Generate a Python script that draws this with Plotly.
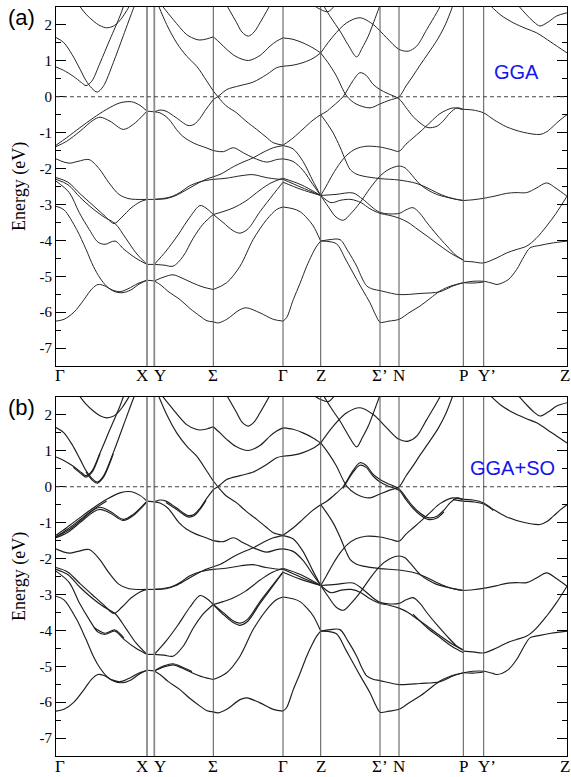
import plotly.graph_objects as go

# ---------------- high-symmetry path ----------------
kpt_labels = ["Γ", "X", "Y", "Σ", "Γ", "Z", "Σ’", "N", "P", "Y’", "Z"]
kpt_pos = [0, 91, 98.3, 157.3, 227, 264.7, 324, 343, 407.3, 427.7, 511]
ytick_vals = [-7, -6, -5, -4, -3, -2, -1, 0, 1, 2]
ytick_text = ["-7", "-6", "-5", "-4", "-3", "-2", "-1", "0", "1", "2"]

# ---------------- GGA bands: (k, E in eV) ----------------
# Gamma -> X
gx_c1 = [(24, 2.51), (30, 2.3), (37.3, 2.11), (44, 1.98), (50.7, 1.92), (56, 1.95), (60.7, 2.03), (66, 2.2), (70.7, 2.4), (74, 2.55)]
gx_c3 = [(0, 1.65), (7.7, 1.51), (16, 1.18), (24, 0.77), (30, 0.45), (35.7, 0.24), (41.3, 0.13), (47.3, 0.29), (57.3, 0.95), (67.3, 1.7), (77.3, 2.45), (79, 2.56)]
gx_c2 = [(0, 0.83), (7.3, 0.74), (17.3, 0.57), (25.7, 0.39), (30, 0.31), (35.7, 0.43), (44, 0.94), (54, 1.6), (64, 2.25), (68, 2.56)]
gx_p = [(0, -1.35), (10.7, -1.14), (24, -0.86), (37.3, -0.59), (50.7, -0.35), (64, -0.17), (75.7, -0.14), (84, -0.24), (91, -0.40)]
gx_q = [(0, -1.39), (10.7, -1.24), (24, -0.96), (37.3, -0.65), (44, -0.57), (54, -0.68), (67.3, -0.91), (77.3, -0.77), (91, -0.40)]
gx_r = [(0, -1.73), (8, -1.82), (14, -1.85), (22, -1.8), (33, -1.75), (43, -2.0), (53, -2.4), (63, -2.72), (73, -2.84), (91, -2.86)]
gx_v = [(0, -2.25), (12, -2.38), (24, -2.7), (36, -3.0), (48, -3.3), (58, -3.53), (66, -3.35), (75, -3.1), (84, -2.93), (91, -2.86)]
gx_s = [(0, -2.3), (12, -2.45), (24, -2.8), (36, -3.1), (48, -3.35), (59, -3.53), (70, -3.95), (80, -4.35), (91, -4.67)]
gx_w = [(0, -2.35), (13.3, -2.67), (23.3, -3.23), (33.3, -3.7), (42, -4.05), (49, -4.11), (59, -4.02), (68, -4.25), (80, -4.5), (91, -4.67)]
gx_t = [(0, -3.05), (8, -3.15), (20.7, -3.7), (30, -4.25), (37.3, -4.72), (44, -5.05), (50.7, -5.28), (58, -5.42), (66, -5.46), (75, -5.38), (83, -5.22), (91, -5.11)]
gx_u = [(0, -6.25), (8, -6.2), (18, -6.0), (28, -5.65), (36, -5.35), (42, -5.23), (48, -5.26), (56, -5.38), (64, -5.43), (72, -5.35), (82, -5.2), (91, -5.11)]

# X -> Y
xy_1 = [(91, -0.40), (98.3, -0.42)]
xy_2 = [(91, -2.86), (98.3, -2.86)]
xy_3 = [(91, -4.67), (98.3, -4.67)]
xy_4 = [(91, -5.11), (98.3, -5.13)]

# Y -> Sigma
ys_1 = [(98.3, -5.13), (105, -5.25), (112, -5.42), (124, -5.65), (134, -5.9), (144, -6.11), (151, -6.24), (157.3, -6.27)]
ys_2 = [(98.3, -5.13), (108, -5.02), (117, -4.96), (126, -5.05), (136, -5.18), (147, -5.3), (157.3, -5.37)]
ys_3 = [(98.3, -4.67), (110, -4.3), (122, -3.85), (134, -3.35), (144, -3.03), (150, -3.1), (157.3, -3.28)]
ys_4 = [(98.3, -4.67), (108, -4.69), (117, -4.72), (127, -4.45), (137, -3.95), (147, -3.55), (157.3, -3.28)]
ys_5 = [(98.3, -2.86), (110, -2.84), (120, -2.75), (130, -2.6), (140, -2.44), (150, -2.3), (157.3, -2.23)]
ys_6 = [(98.3, -2.86), (110, -2.82), (116.7, -2.77), (125, -2.65), (133, -2.49), (145, -2.36), (157.3, -2.3)]
ys_7 = [(98.3, -0.42), (104, -0.45), (112, -0.6), (123, -1.0), (130, -1.17), (140, -1.32), (150, -1.42), (157.3, -1.5)]
ys_8 = [(98.3, -0.42), (104, -0.37), (110, -0.4), (120, -0.58), (132, -0.8), (138, -0.77), (144, -0.6), (150, -0.35), (157.3, -0.08)]
ys_9 = [(102.3, 2.55), (110.7, 2.01), (120.7, 1.5), (130.7, 1.13), (140.7, 0.85), (150.7, 0.44), (157.3, 0.16)]
ys_10 = [(105.7, 2.55), (117.3, 2.15), (130.7, 1.73), (140, 1.6), (144, 1.58), (150.7, 1.61), (157.3, 1.67)]

# Sigma -> Gamma
sg_1 = [(157.3, 1.67), (164, 1.5), (170.7, 1.32), (180, 1.12), (192.3, 1.01), (204, 1.15), (214, 1.41), (220.7, 1.55), (227, 1.64)]
sg_2 = [(170.7, 2.55), (180.7, 2.06), (186, 1.8), (192.3, 1.69), (198, 1.8), (204, 2.06), (214, 2.55)]
sg_3 = [(157.3, -0.08), (164, 0.05), (170.7, 0.2), (184, 0.31), (197.3, 0.41), (210.7, 0.62), (220.7, 0.81), (227, 0.85)]
sg_4 = [(157.3, 0.16), (164, -0.07), (170, -0.25), (180.7, -0.45), (190, -0.68), (200.7, -0.91), (210, -1.12), (217.3, -1.28), (227, -1.35)]
sg_5 = [(157.3, -1.5), (167.3, -1.53), (177.3, -1.42), (187.3, -1.56), (197.3, -1.70), (210.7, -1.82), (220.7, -1.75), (227, -1.73)]
sg_6 = [(157.3, -2.23), (165, -2.15), (177.3, -1.95), (187, -1.82), (197.3, -1.70), (207, -1.55), (217.3, -1.42), (227, -1.36)]
sg_7 = [(157.3, -2.3), (170, -2.27), (185, -2.2), (197, -2.17), (210, -2.25), (220, -2.29), (227, -2.3)]
sg_8 = [(157.3, -3.28), (167, -3.2), (177, -3.1), (190, -2.9), (204, -2.6), (215, -2.4), (227, -2.27)]
sg_9 = [(157.3, -3.28), (167, -3.5), (177, -3.73), (184, -3.8), (192, -3.68), (204, -3.2), (217.3, -2.72), (227, -2.38)]
sg_10 = [(157.3, -5.37), (170.7, -5.18), (184, -4.72), (197.3, -3.97), (210.7, -3.42), (220.7, -3.14), (227, -3.07)]
sg_11 = [(157.3, -6.27), (162.3, -6.3), (170.7, -6.2), (184, -5.93), (190.7, -5.88), (204, -6.02), (217.3, -6.2), (227, -6.25)]

# Gamma -> Z
gz_1 = [(227, 1.64), (237, 1.6), (247, 1.5), (257, 1.36), (264.7, 1.22)]
gz_2 = [(227, 0.85), (237, 0.88), (247, 0.95), (257, 1.07), (264.7, 1.22)]
gz_3 = [(227, -1.35), (237, -1.15), (247, -0.9), (257, -0.65), (264.7, -0.5)]
gz_4 = [(227, -1.36), (237, -1.45), (247, -1.8), (257, -2.35), (264.7, -2.75)]
gz_5 = [(227, -1.73), (237, -1.8), (247, -2.05), (257, -2.45), (264.7, -2.75)]
gz_6 = [(227, -2.27), (245, -2.45), (264.7, -2.75)]
gz_7 = [(227, -2.3), (245, -2.52), (264.7, -2.75)]
gz_8 = [(227, -2.38), (245, -2.58), (264.7, -2.75)]
gz_9 = [(227, -3.07), (237, -3.12), (244, -3.2), (251, -3.38), (257.3, -3.6), (264.7, -4.02)]
gz_10 = [(227, -6.25), (230.7, -6.15), (237.3, -5.65), (244, -5.2), (250.7, -4.72), (256, -4.4), (260.7, -4.16), (264.7, -4.02)]
gz_11 = [(257.3, 2.55), (264.7, 2.43), (272, 2.37), (279, 2.55)]

# Z -> Sigma' -> N -> P
zp_b1 = [(264.7, 1.22), (272, 0.95), (280, 0.6), (290.7, 0.02), (300, -0.2), (314, -0.31), (324, -0.2), (333, -0.1), (343, 0.0), (350, 0.3), (357, 0.58), (364, 0.88), (372, 1.2), (382, 1.62), (390, 2.05), (397, 2.55)]
zp_b2 = [(264.7, -0.5), (270, -0.42), (277, -0.26), (287, 0.0), (297, 0.45), (304, 0.67), (310, 0.6), (317, 0.35), (324, 0.2), (331, 0.1), (343, -0.06), (350, -0.3), (357, -0.55), (364, -0.73), (372, -0.86), (381, -0.82), (388, -0.65), (394, -0.45), (401, -0.31), (407.3, -0.35)]
zp_b3 = [(264.7, 1.22), (277.3, 1.69), (290.7, 2.06), (304, 2.2), (317.3, 2.01), (330.7, 1.64), (343, 1.32), (352.3, 1.27), (360.7, 1.41), (370.7, 1.87), (380.7, 2.34), (385, 2.56)]
zp_v = [(267.3, 2.55), (275, 2.2), (284, 1.83), (292, 1.45), (300.7, 1.11), (306, 1.35), (312.3, 1.69), (318, 2.1), (324, 2.55)]
zp_l1 = [(264.7, -0.5), (270, -0.7), (277, -1.0), (284, -1.4), (290, -1.8), (294, -2.02), (300, -2.15), (307, -2.21), (324, -2.28), (343, -2.32), (360, -2.41), (370, -2.52), (380.7, -2.67), (390, -2.78), (400.7, -2.86), (407.3, -2.89)]
zp_l2 = [(264.7, -2.75), (270, -2.5), (277, -2.15), (284, -1.85), (291, -1.62), (300, -1.45), (310, -1.38), (324, -1.4), (335, -1.47), (343, -1.52), (350, -1.32), (357, -1.15), (364, -0.98), (374, -0.72), (384, -0.47), (397, -0.31), (407.3, -0.36)]
zp_m = [(264.7, -2.75), (272, -3.05), (280, -3.35), (287.3, -3.44), (295, -3.25), (304, -2.95), (314, -2.55), (324, -2.21), (333, -2.02), (343, -1.93), (349, -1.98), (354, -2.12), (364, -2.44), (372, -2.6), (380.7, -2.72), (391, -2.8), (400.7, -2.86), (407.3, -2.89)]
zp_f1 = [(264.7, -2.75), (280, -2.72), (297, -2.68), (307, -2.86), (324, -3.22), (343, -3.25), (350, -3.15), (357, -3.09), (364, -3.25), (371, -3.51), (381, -3.85), (391, -4.16), (400, -4.42), (407.3, -4.55)]
zp_f2 = [(264.7, -2.75), (275, -2.95), (285, -2.88), (295, -2.86), (305, -2.95), (314, -3.12), (324, -3.25), (333, -3.3), (343, -3.38), (352, -3.5), (362, -3.7), (372, -3.9), (384, -4.15), (396, -4.38), (407.3, -4.55)]
zp_g1 = [(264.7, -4.02), (274, -3.98), (284, -3.98), (292, -4.3), (300.7, -4.72), (306, -5.05), (310.7, -5.27), (317, -5.36), (324, -5.4), (343, -5.51), (364, -5.48), (384, -5.43), (397, -5.27), (407.3, -5.18)]
zp_g2 = [(264.7, -4.02), (272, -4.03), (280.7, -4.1), (290, -4.55), (300.7, -5.09), (307, -5.4), (314, -5.74), (320, -6.1), (324, -6.28), (333, -6.25), (343, -6.2), (354, -6.0), (364, -5.83), (374, -5.62), (384, -5.41), (395, -5.27), (407.3, -5.18)]

# P -> Y' -> Z
pz_1 = [(407.3, -0.35), (417, -0.37), (427.7, -0.45), (437.3, -0.63), (450.7, -0.84), (467.3, -0.99), (484, -1.05), (491, -0.97), (497.3, -0.82), (504, -0.65), (511, -0.5)]
pz_2 = [(407.3, -2.89), (417, -2.87), (427.3, -2.83), (440, -2.76), (450.7, -2.69), (460, -2.67), (470.7, -2.67), (480, -2.55), (490.7, -2.40), (500, -2.55), (511, -2.77)]
pz_3 = [(407.3, -4.58), (417, -4.6), (427.3, -4.63), (440, -4.5), (450.7, -4.35), (460, -4.26), (470.7, -4.16), (480, -3.95), (490.7, -3.6), (500, -3.25), (511, -2.77)]
pz_4 = [(407.3, -5.18), (417, -5.14), (427.7, -5.14), (437, -5.2), (441, -5.23), (452, -5.1), (460.7, -4.81), (468, -4.45), (474, -4.21), (484, -4.14), (495, -4.08), (511, -4.02)]
pz_5 = [(407.3, -5.18), (417, -5.19), (427.7, -5.16)]
pz_6 = [(434, 2.55), (445, 2.27), (457.3, 2.06), (470, 1.9), (480.7, 1.78), (495, 1.52), (511, 1.22)]
pz_7 = [(462, 2.55), (470, 2.3), (478, 2.08), (484, 1.97), (492, 2.08), (500.7, 2.25), (511, 2.34)]

bands_gga = [gx_c1, gx_c3, gx_c2, gx_p, gx_q, gx_r, gx_v, gx_s, gx_w, gx_t, gx_u,
             xy_1, xy_2, xy_3, xy_4,
             ys_1, ys_2, ys_3, ys_4, ys_5, ys_6, ys_7, ys_8, ys_9, ys_10,
             sg_1, sg_2, sg_3, sg_4, sg_5, sg_6, sg_7, sg_8, sg_9, sg_10, sg_11,
             gz_1, gz_2, gz_3, gz_4, gz_5, gz_6, gz_7, gz_8, gz_9, gz_10, gz_11,
             zp_b1, zp_b2, zp_b3, zp_v, zp_l1, zp_l2, zp_m, zp_f1, zp_f2, zp_g1, zp_g2,
             pz_1, pz_2, pz_3, pz_4, pz_5, pz_6, pz_7]

# ---------------- extra spin-orbit split partners seen in panel (b) ----------------
so_q = [(0, -1.42), (10.7, -1.29), (24, -1.0), (37.3, -0.7), (44, -0.63), (54, -0.73), (67.3, -0.94), (77.3, -0.8), (91, -0.42)]
so_p = [(0, -1.40), (10.7, -1.2), (24, -0.92), (37.3, -0.64), (50.7, -0.4)]
so_c2 = [(17.3, 0.54), (25.7, 0.35), (30, 0.27), (35.7, 0.39), (44, 0.92)]
so_c3 = [(30, 0.41), (35.7, 0.2), (41.3, 0.1), (47.3, 0.26), (57.3, 0.92)]
so_w = [(38, -3.92), (49, -4.08), (59, -3.99), (68, -4.22)]
so_ys2 = [(98.3, -5.13), (108, -4.99), (117, -4.93), (126, -5.02), (136, -5.15)]
so_ys8 = [(110, -0.44), (120, -0.62), (132, -0.84), (138, -0.81), (144, -0.63), (150, -0.38)]
so_sg9 = [(157.3, -3.28), (167, -3.55), (177, -3.78), (184, -3.86), (192, -3.74), (204, -3.25), (217.3, -2.75), (227, -2.38)]
so_b2 = [(287, -0.05), (297, 0.4), (304, 0.6), (310, 0.54), (317, 0.3), (324, 0.13), (331, 0.03), (343, -0.1), (350, -0.36), (357, -0.6), (364, -0.78), (372, -0.91), (381, -0.87), (388, -0.7)]
so_f2 = [(357, -3.55), (372, -3.95), (384, -4.2), (396, -4.45), (407.3, -4.62)]
so_pz1 = [(397, -0.36), (407.3, -0.4), (417, -0.42), (427.7, -0.48), (437.3, -0.66)]

bands_so_extra = [so_q, so_p, so_c2, so_c3, so_w, so_ys2, so_ys8, so_sg9, so_b2, so_f2, so_pz1]


def flatten(curves):
    xs, ys = [], []
    for c in curves:
        for k, e in c:
            xs.append(k)
            ys.append(e)
        xs.append(None)
        ys.append(None)
    return xs, ys


W, H = 571, 777
ML, MR = 56, 4
PW = W - ML - MR

xa, ya = flatten(bands_gga)
xb, yb = flatten(bands_gga + bands_so_extra)

fig = go.Figure()
fig.add_trace(go.Scatter(x=xa, y=ya, mode="lines", xaxis="x", yaxis="y",
                         line=dict(color="#262626", width=1.0, shape="spline", smoothing=0.9),
                         hoverinfo="skip", showlegend=False))
fig.add_trace(go.Scatter(x=xb, y=yb, mode="lines", xaxis="x2", yaxis="y2",
                         line=dict(color="#1e1e1e", width=1.15, shape="spline", smoothing=0.9),
                         hoverinfo="skip", showlegend=False))

# panel geometry in pixels (from top)
panels = [("x", "y", 7, 366), ("x2", "y2", 397, 756)]

xaxis_common = dict(range=[kpt_pos[0], kpt_pos[-1]], showticklabels=False, ticks="",
                    showgrid=False, zeroline=False, showline=True, linecolor="black",
                    linewidth=1, mirror=True, domain=[0, 1], fixedrange=True)
yaxis_common = dict(range=[-7.5, 2.5], tickmode="array", tickvals=ytick_vals, ticktext=ytick_text,
                    ticks="inside", ticklen=10, tickwidth=1, tickcolor="black",
                    minor=dict(ticks="inside", ticklen=5, tickwidth=1, tickcolor="black",
                               tickmode="linear", tick0=-7.5, dtick=1, showgrid=False),
                    showgrid=False, zeroline=False, showline=True, linecolor="black",
                    linewidth=1, mirror="allticks", fixedrange=True,
                    tickfont=dict(family="Liberation Serif, Times New Roman, serif", size=15, color="black"))

layout = dict(width=W, height=H, margin=dict(l=ML, r=MR, t=0, b=0),
              paper_bgcolor="white", plot_bgcolor="white", showlegend=False)
shapes = []
annotations = []
for i, (xn, yn, top, bot) in enumerate(panels):
    xkey = "xaxis" if xn == "x" else "xaxis2"
    ykey = "yaxis" if yn == "y" else "yaxis2"
    layout[xkey] = dict(xaxis_common, anchor=yn)
    layout[ykey] = dict(yaxis_common, anchor=xn,
                        domain=[(H - bot) / H, (H - top) / H])
    # vertical high-symmetry lines
    for j, kp in enumerate(kpt_pos[1:-1], start=1):
        is_xy = kpt_labels[j] in ("X", "Y")
        shapes.append(dict(type="line", xref=xn, yref=yn + " domain", x0=kp, x1=kp, y0=0, y1=1,
                           line=dict(color="#8a8a8a" if is_xy else "#555555", width=1.8 if is_xy else 1)))
    # Fermi level
    shapes.append(dict(type="line", xref=xn + " domain", yref=yn, x0=0, x1=1, y0=0, y1=0,
                       line=dict(color="#444444", width=1, dash="4px,3px")))
    # k-point labels
    label_y = (H - (bot + 10)) / H
    shifts = {1: -5, 2: 6, 0: 4, 9: 3, 10: -2}
    for j, (lab, kp) in enumerate(zip(kpt_labels, kpt_pos)):
        annotations.append(dict(text=lab, xref=xn, x=kp, yref="paper", y=label_y,
                                xshift=shifts.get(j, 0), xanchor="center", yanchor="middle",
                                showarrow=False, borderpad=0,
                                font=dict(family="Liberation Serif, Times New Roman, serif", size=17, color="black")))
    # y-axis title
    annotations.append(dict(text="Energy (eV)", xref="paper", x=(19.5 - ML) / PW, yref="paper",
                            y=(H - (top + bot) / 2) / H, textangle=-90, showarrow=False,
                            xanchor="center", yanchor="middle",
                            font=dict(family="Liberation Serif, Times New Roman, serif", size=18, color="black")))
    # panel letter
    annotations.append(dict(text="(a)" if i == 0 else "(b)", xref="paper", x=(21 - ML) / PW,
                            yref="paper", y=(H - (top + 10)) / H, showarrow=False,
                            xanchor="center", yanchor="middle",
                            font=dict(family="Liberation Sans, Arial, sans-serif", size=22, color="black")))

annotations.append(dict(text="GGA", xref="x", yref="y", x=460, y=0.68, showarrow=False,
                        xanchor="center", yanchor="middle",
                        font=dict(family="Liberation Sans, Arial, sans-serif", size=20, color="#1414ee")))
annotations.append(dict(text="GGA+SO", xref="x2", yref="y2", x=456, y=0.52, showarrow=False,
                        xanchor="center", yanchor="middle",
                        font=dict(family="Liberation Sans, Arial, sans-serif", size=20, color="#1414ee")))

layout["shapes"] = shapes
layout["annotations"] = annotations
fig.update_layout(**layout)

# remove the default page margin so the 571x777 figure fills the window exactly
fig.write_html("out.html",
               config={"displayModeBar": False, "staticPlot": True},
               post_script="document.body.style.margin='0';document.body.style.padding='0';"
                           "document.documentElement.style.overflow='hidden';")
